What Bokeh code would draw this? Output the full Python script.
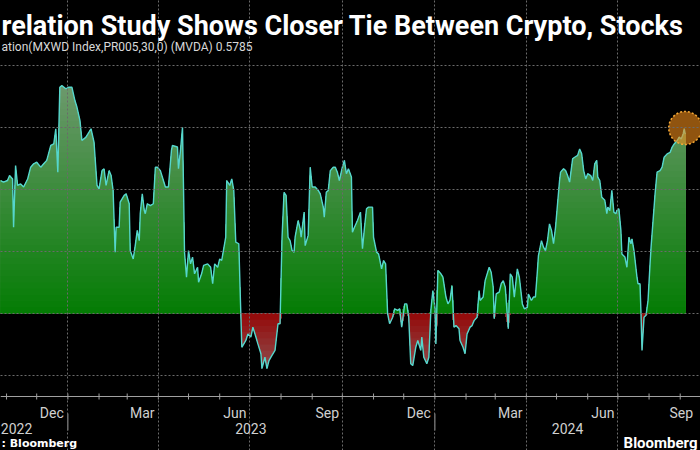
import numpy as np
import pandas as pd
from bokeh.plotting import figure
from bokeh.models import (Range1d, FixedTicker, Label, Grid, Span,
                          GlobalInlineStyleSheet)
from bokeh.embed import file_html
from bokeh.resources import INLINE

# ---------------- data (30-day correlation) ----------------
BASE_DATE = "2022-10-26"          # day 0 of the offsets below

days_2022 = [0, 3, 7, 9, 12, 13, 15, 17, 20, 23, 27, 30, 33, 36, 40, 43, 46, 50, 53, 55,
             57, 59, 61, 65]
corr_2022 = [0.429, 0.424, 0.429, 0.445, 0.434, 0.278, 0.477, 0.413, 0.418, 0.408, 0.434,
             0.472, 0.483, 0.488, 0.472, 0.483, 0.494, 0.542, 0.547, 0.596, 0.456, 0.730,
             0.735, 0.725]

days_2023 = [68, 71, 74, 76, 79, 81, 85, 88, 90, 93, 96, 98, 101, 103, 105, 108, 110, 112,
             114, 115, 118, 119, 123, 125, 128, 129, 132, 134, 136, 138,
             139, 141, 143, 144, 146, 149, 152, 154, 156, 159, 162, 164, 167, 170, 171, 176,
             177, 179, 181, 182, 183, 185, 187, 189, 191, 193, 196, 197, 200, 202, 206, 209,
             211, 213, 216, 218, 220, 224, 225, 228, 230, 232, 234, 237, 239, 240, 244, 246,
             249, 251, 254, 256, 259, 260, 263, 265, 267, 270, 273, 276,
             278, 280, 282, 284, 286, 288, 290, 292, 293, 296, 298, 299, 302, 303, 306, 308,
             310, 313, 316, 318, 321, 322, 324, 326, 328, 331, 333, 335, 337, 340, 342, 344,
             346, 349, 350, 352, 355, 358, 360, 362, 364, 366, 370, 371, 374, 376, 379, 381,
             383, 385, 387, 390, 392, 395, 397, 399, 402, 404, 406, 408, 410, 413, 415, 418,
             419, 421, 424, 426, 428, 430]
corr_2023 = [0.730, 0.730, 0.687, 0.666, 0.623, 0.558, 0.569, 0.585, 0.596, 0.553, 0.413,
             0.402, 0.461, 0.467, 0.413, 0.461, 0.445, 0.397, 0.198, 0.278, 0.278, 0.359,
             0.381, 0.386, 0.354, 0.203, 0.176, 0.219, 0.268, 0.235,
             0.322, 0.386, 0.332, 0.322, 0.354, 0.348, 0.354, 0.472, 0.472, 0.461, 0.429,
             0.408, 0.408, 0.526, 0.542, 0.537, 0.467, 0.526, 0.601, 0.408, 0.198, 0.117,
             0.203, 0.160, 0.182, 0.128, 0.149, 0.101, 0.128, 0.155, 0.160, 0.149, 0.096,
             0.160, 0.149, 0.176, 0.171, 0.246, 0.429, 0.413, 0.434, 0.397, 0.230, 0.225,
             0.0, -0.109, -0.087, -0.066, -0.076, -0.044, -0.076, -0.098, -0.130, -0.178,
             -0.141, -0.178, -0.152, -0.135, -0.119, -0.033,
             -0.033, 0.246, 0.391, 0.381, 0.246, 0.235, 0.203, 0.198, 0.246, 0.300, 0.273,
             0.246, 0.327, 0.219, 0.252, 0.472, 0.408, 0.408, 0.397, 0.386, 0.343, 0.311,
             0.391, 0.397, 0.461, 0.472, 0.472, 0.456, 0.429, 0.472, 0.494, 0.451, 0.467,
             0.440, 0.262, 0.278, 0.300, 0.327, 0.209, 0.278, 0.338, 0.343, 0.343, 0.246,
             0.198, 0.192, 0.144, 0.171, 0.160, 0.0, -0.033, -0.012, 0.015, 0.010, 0.015,
             -0.044, 0.031, 0.031, -0.012, -0.162, -0.168, -0.109, -0.087, -0.119,
             -0.076, -0.141, -0.162, -0.141, 0.010, 0.074]

days_2024 = [432, 433, 435, 438, 440, 443, 445, 447, 449, 451, 453, 456, 457, 460, 462, 464,
             467, 469, 471, 474, 476, 477, 480, 482, 486, 488, 490, 491, 493, 496, 498, 500,
             502, 505, 507, 509, 511, 514, 516, 519, 521, 524, 525, 528, 530, 532, 534, 535,
             538, 540, 542, 544, 546, 548, 550, 552, 554, 556,
             557, 560, 562, 564, 566, 569, 571, 574, 576, 578, 580, 582, 584, 587, 589, 591,
             593, 594, 596, 598, 601, 603, 604, 606, 608, 610, 612, 613, 615, 617, 618, 621,
             623, 625, 627, 628, 630, 633, 634, 636, 637, 638, 640, 642, 644, 646, 647, 649,
             651, 653, 656, 658, 660, 663, 666, 668, 670, 673, 675, 677, 679, 680, 681]
corr_2024 = [0.020, -0.098, 0.139, 0.128, 0.117, 0.053, 0.031, 0.042, 0.090, -0.044, -0.039,
             -0.049, -0.087, -0.109, -0.130, -0.066, -0.044, -0.039, -0.023, -0.012, 0.074,
             0.042, 0.053, 0.106, 0.149, 0.133, 0.085, -0.017, 0.063, 0.069, 0.096, 0.106,
             0.085, -0.049, 0.128, 0.117, 0.053, 0.144, 0.117, 0.031, 0.015, 0.020, 0.063,
             0.042, 0.053, 0.053, 0.139, 0.187, 0.235, 0.214, 0.203, 0.235, 0.289, 0.268,
             0.225, 0.278, 0.354, 0.429,
             0.456, 0.467, 0.461, 0.445, 0.424, 0.499, 0.504, 0.510, 0.531, 0.515, 0.461,
             0.434, 0.451, 0.445, 0.429, 0.483, 0.494, 0.440, 0.429, 0.375, 0.365, 0.322,
             0.343, 0.332, 0.397, 0.327, 0.322, 0.332, 0.338, 0.268, 0.192, 0.182, 0.149,
             0.246, 0.225, 0.241, 0.203, 0.117, 0.096, 0.096, 0.0, -0.119, -0.012, -0.006,
             0.042, 0.160, 0.214, 0.300, 0.386, 0.456, 0.461, 0.472, 0.504, 0.515, 0.520,
             0.537, 0.547, 0.558, 0.569, 0.563, 0.580, 0.596, 0.5785]

# axis / label positions (dates)
month_label_dates = ["2022-12-16", "2023-03-16", "2023-06-16", "2023-09-16",
                     "2023-12-16", "2024-03-16", "2024-06-16", "2024-09-02"]
month_label_names = ["Dec", "Mar", "Jun", "Sep", "Dec", "Mar", "Jun", "Sep"]
year_label_dates = ["2022-11-11", "2023-07-02", "2024-05-12"]
year_label_names = ["2022", "2023", "2024"]
year_start_dates = ["2023-01-01", "2024-01-01"]
quarter_start_dates = ["2023-01-01", "2023-04-01", "2023-07-01", "2023-10-01",
                       "2024-01-01", "2024-04-01", "2024-07-01"]
y_grid_values = [-0.2, 0.0, 0.2, 0.4, 0.6, 0.8]

TITLE = "relation Study Shows Closer Tie Between Crypto, Stocks"
SUBTITLE = "ation(MXWD Index,PR005,30,0) (MVDA) 0.5785"
SOURCE = ": Bloomberg"
BRAND = "Bloomberg"

# ---------------- layout helpers ----------------
W, H = 700, 450
ZERO_PX, PX_PER_UNIT = 313, 310.0      # canvas row of 0.0 and pixels per unit
PX_PER_DAY = 1.0055
PLOT_TOP, PLOT_BOTTOM = 55, 396        # canvas rows of the chart area


def val_at(py):
    """value that sits at canvas row py"""
    return (ZERO_PX - py) / PX_PER_UNIT


def sy(py):
    """screen-unit y (from the bottom) for canvas row py"""
    return H - py


base = pd.Timestamp(BASE_DATE)


def to_day(s):
    return int((pd.Timestamp(s) - base).days)


x = np.array(days_2022 + days_2023 + days_2024, dtype=float)
y = np.array(corr_2022 + corr_2023 + corr_2024, dtype=float)
month_starts = [to_day(d) for d in pd.date_range("2022-11-01", "2024-09-01", freq="MS")]

p = figure(width=W, height=H,
           x_range=Range1d(0, W / PX_PER_DAY), y_range=Range1d(val_at(H), val_at(0)),
           x_axis_type=None, y_axis_type=None,
           output_backend="svg", toolbar_location=None,
           background_fill_color="#000000", border_fill_color="#000000",
           outline_line_color=None,
           min_border_left=0, min_border_right=0, min_border_top=0, min_border_bottom=0)
p.title.visible = False
p.stylesheets = [GlobalInlineStyleSheet(css="html, body { background-color: #000000; }")]


def mix(c0, c1, t):
    r = [int(round(a + (b - a) * t)) for a, b in zip(c0, c1)]
    return "#%02x%02x%02x" % tuple(r)


# gradient fill above zero
pos = np.maximum(y, 0.0)
g0, g1 = (4, 124, 4), (118, 156, 118)
step = 0.02
for k in range(40, 0, -1):
    top = k * step
    col = mix(g0, g1, min((top - step / 2) / 0.8, 1.0))
    p.varea(x=x, y1=np.zeros_like(pos), y2=np.minimum(pos, top),
            fill_color=col, fill_alpha=1.0)

# gradient fill below zero
neg = np.minimum(y, 0.0)
r0, r1 = (148, 8, 8), (140, 105, 105)
for k in range(14, 0, -1):
    bot = -k * step
    col = mix(r0, r1, min((k * step - step / 2) / 0.25, 1.0))
    p.varea(x=x, y1=np.maximum(neg, bot), y2=np.zeros_like(neg),
            fill_color=col, fill_alpha=1.0)

p.line(x, y, line_color="#55d6cc", line_width=1.4)

# highlight circle at the latest reading
p.scatter([x[-1]], [y[-1] + 0.02], size=33, marker="circle", fill_color="#f08c19",
          fill_alpha=0.6, line_color="#f5a935", line_dash="2 2", line_width=1.5)

# grids (drawn above the fill), limited to the chart area
xgrid = Grid(dimension=0, ticker=FixedTicker(ticks=[to_day(d) for d in quarter_start_dates]),
             bounds=(val_at(PLOT_BOTTOM), val_at(PLOT_TOP)),
             grid_line_color="#6a6a6a", grid_line_dash="2 2", grid_line_width=1, level="guide")
ygrid = Grid(dimension=1, ticker=FixedTicker(ticks=y_grid_values),
             grid_line_color="#6a6a6a", grid_line_dash="2 2", grid_line_width=1, level="guide")
p.add_layout(xgrid)
p.add_layout(ygrid)

# x axis: base line, month ticks, year separators
p.add_layout(Span(location=val_at(PLOT_BOTTOM), dimension="width",
                  line_color="#a0a0a0", line_width=1))
p.segment(x0=month_starts, x1=month_starts,
          y0=[val_at(PLOT_BOTTOM - 3)] * len(month_starts),
          y1=[val_at(PLOT_BOTTOM + 3)] * len(month_starts),
          line_color="#a0a0a0", line_width=1)
ys = [to_day(d) for d in year_start_dates]
p.segment(x0=ys, x1=ys, y0=[val_at(413)] * len(ys), y1=[val_at(430)] * len(ys),
          line_color="#a0a0a0", line_width=1)

for d, name in zip(month_label_dates, month_label_names):
    p.add_layout(Label(x=to_day(d), y=sy(412), x_units="data", y_units="screen",
                       text=name, text_font="Roboto", text_font_size="14px",
                       text_color="#d0d0d0", text_align="center",
                       text_baseline="alphabetic"))
for d, name in zip(year_label_dates, year_label_names):
    p.add_layout(Label(x=to_day(d), y=sy(428), x_units="data", y_units="screen",
                       text=name, text_font="Roboto", text_font_size="14px",
                       text_color="#d0d0d0", text_align="center",
                       text_baseline="alphabetic"))

# texts
p.add_layout(Label(x=1, y=sy(25), x_units="screen", y_units="screen", text=TITLE,
                   text_font="Roboto", text_font_style="bold", text_font_size="27px",
                   text_color="#ffffff", text_baseline="alphabetic", text_align="left"))
p.add_layout(Label(x=1, y=sy(46), x_units="screen", y_units="screen", text=SUBTITLE,
                   text_font="Roboto", text_font_size="12px",
                   text_color="#d8d8d8", text_baseline="alphabetic", text_align="left"))
p.add_layout(Label(x=1, y=sy(443), x_units="screen", y_units="screen", text=SOURCE,
                   text_font="DejaVu Sans", text_font_style="bold", text_font_size="11px",
                   text_color="#ffffff", text_baseline="alphabetic", text_align="left"))
p.add_layout(Label(x=697, y=sy(442), x_units="screen", y_units="screen", text=BRAND,
                   text_font="Roboto", text_font_style="bold", text_font_size="15px",
                   text_color="#ffffff", text_baseline="alphabetic", text_align="right"))

open("out.html", "w").write(file_html(p, INLINE))
